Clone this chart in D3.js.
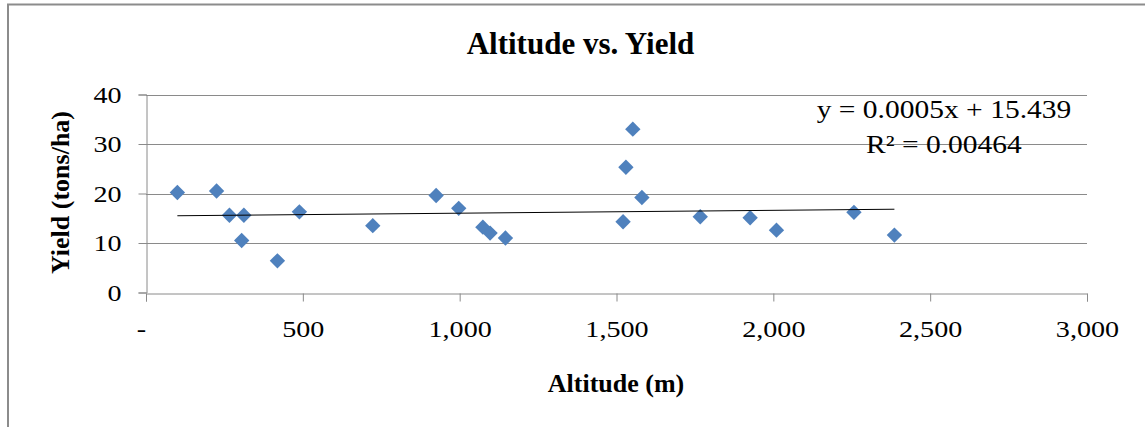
<!DOCTYPE html>
<html>
<head>
<meta charset="utf-8">
<script src="https://cdn.jsdelivr.net/npm/d3@7/dist/d3.min.js"></script>
<style>
  html, body { margin: 0; padding: 0; background: #fff; }
  svg { display: block; }
  text { font-family: "Liberation Serif", "Times New Roman", serif; fill: #000; }
</style>
</head>
<body>
<svg id="chart" width="1145" height="427"></svg>
<script>
// ---- data ----
const altitude = [100, 225, 266, 312, 305, 419, 489, 723, 925, 997, 1074, 1097, 1146,
                  1552, 1530, 1581, 1521, 1767, 1926, 2010, 2257, 2386];
const yieldVals = [20.2, 20.5, 15.6, 15.6, 10.5, 6.4, 16.3, 13.5, 19.6, 17.0, 13.2, 12.0, 11.0,
                   33.0, 25.3, 19.2, 14.3, 15.3, 15.1, 12.6, 16.2, 11.6];
const xTicks = [0, 500, 1000, 1500, 2000, 2500, 3000];
const yTicks = [0, 10, 20, 30, 40];
const titleText = "Altitude vs. Yield";
const xTitle = "Altitude (m)";
const yTitle = "Yield (tons/ha)";
const eqLines = ["y = 0.0005x + 15.439", "R\u00B2 = 0.00464"];

// ---- layout ----
const svg = d3.select("#chart");
const plot = { left: 146, right: 1087, top: 94.5, bottom: 292.5 };
const x = d3.scaleLinear().domain([0, 3000]).range([plot.left, plot.right]);
const y = d3.scaleLinear().domain([0, 40]).range([plot.bottom, plot.top]);
const gridColor = "#8a8a8a";

// chart border (only top/left visible in frame)
svg.append("rect").attr("x", 8).attr("y", 4.5).attr("width", 1200).attr("height", 500)
  .attr("fill", "none").attr("stroke", "#8c8c8c").attr("stroke-width", 2);

// stretch helper
function stretch(sel, f) {
  sel.each(function() {
    const L = this.getComputedTextLength();
    d3.select(this).attr("textLength", L * f).attr("lengthAdjust", "spacingAndGlyphs");
  });
}

// horizontal gridlines
svg.append("g").selectAll("line").data(yTicks.filter(d => d > 0)).join("line")
  .attr("x1", plot.left).attr("x2", plot.right)
  .attr("y1", d => Math.round(y(d)) + 0.5).attr("y2", d => Math.round(y(d)) + 0.5)
  .attr("stroke", gridColor).attr("stroke-width", 1);

// y axis
const yAxis = svg.append("g").attr("transform", `translate(${plot.left + 0.5},0)`)
  .call(d3.axisLeft(y).tickValues(yTicks).tickSize(8).tickPadding(17).tickFormat(d3.format("d")));
yAxis.select(".domain").attr("stroke", gridColor);
yAxis.selectAll(".tick line").attr("stroke", gridColor);
yAxis.selectAll(".tick text").attr("font-family", "Liberation Serif").attr("font-size", 22.5)
  .attr("fill", "#000").attr("dy", "0.35em");
stretch(yAxis.selectAll(".tick text"), 1.25);

// x axis
const xAxis = svg.append("g").attr("transform", `translate(0,${Math.round(plot.bottom) + 0.5})`)
  .call(d3.axisBottom(x).tickValues(xTicks).tickSize(8).tickPadding(20)
    .tickFormat(d => d === 0 ? "-" : d3.format(",")(d)));
xAxis.select(".domain").attr("stroke", gridColor);
xAxis.selectAll(".tick line").attr("stroke", gridColor);
xAxis.selectAll(".tick text").attr("font-family", "Liberation Serif").attr("font-size", 22.5)
  .attr("fill", "#000").attr("dy", "0.71em")
  .attr("dx", d => d === 0 ? -5 : 0);
stretch(xAxis.selectAll(".tick text"), 1.25);

// trendline via least squares
const n = altitude.length;
const mx = d3.mean(altitude), my = d3.mean(yieldVals);
let sxy = 0, sxx = 0;
for (let i = 0; i < n; i++) { sxy += (altitude[i] - mx) * (yieldVals[i] - my); sxx += (altitude[i] - mx) ** 2; }
const slope = sxy / sxx, intercept = my - slope * mx;
const [xmin, xmax] = d3.extent(altitude);

// points
const pts = altitude.map((a, i) => ({ a, v: yieldVals[i] }));
const diamond = d3.symbol().type(d3.symbolSquare).size(118);
svg.append("g").selectAll("path").data(pts).join("path")
  .attr("d", diamond)
  .attr("transform", d => `translate(${x(d.a)},${y(d.v)}) rotate(45)`)
  .attr("fill", "#4f81bd");

svg.append("line")
  .attr("x1", x(xmin)).attr("x2", x(xmax))
  .attr("y1", y(intercept + slope * xmin)).attr("y2", y(intercept + slope * xmax))
  .attr("stroke", "#000").attr("stroke-width", 1);

// trendline equation
const eq = svg.append("g");
eq.selectAll("text").data(eqLines).join("text")
  .attr("x", 944).attr("y", (d, i) => 118 + i * 34.5)
  .attr("text-anchor", "middle").attr("font-size", 25)
  .text(d => d);
stretch(eq.selectAll("text"), 1.18);

// titles
svg.append("text").attr("x", 580.5).attr("y", 53.5).attr("text-anchor", "middle")
  .attr("font-size", 31).attr("font-weight", "bold").text(titleText);
svg.append("text").attr("x", 616).attr("y", 392).attr("text-anchor", "middle")
  .attr("font-size", 26).attr("font-weight", "bold").text(xTitle);
svg.append("text").attr("transform", "translate(69,192.5) rotate(-90)").attr("text-anchor", "middle")
  .attr("font-size", 26).attr("font-weight", "bold").text(yTitle);
</script>
</body>
</html>
